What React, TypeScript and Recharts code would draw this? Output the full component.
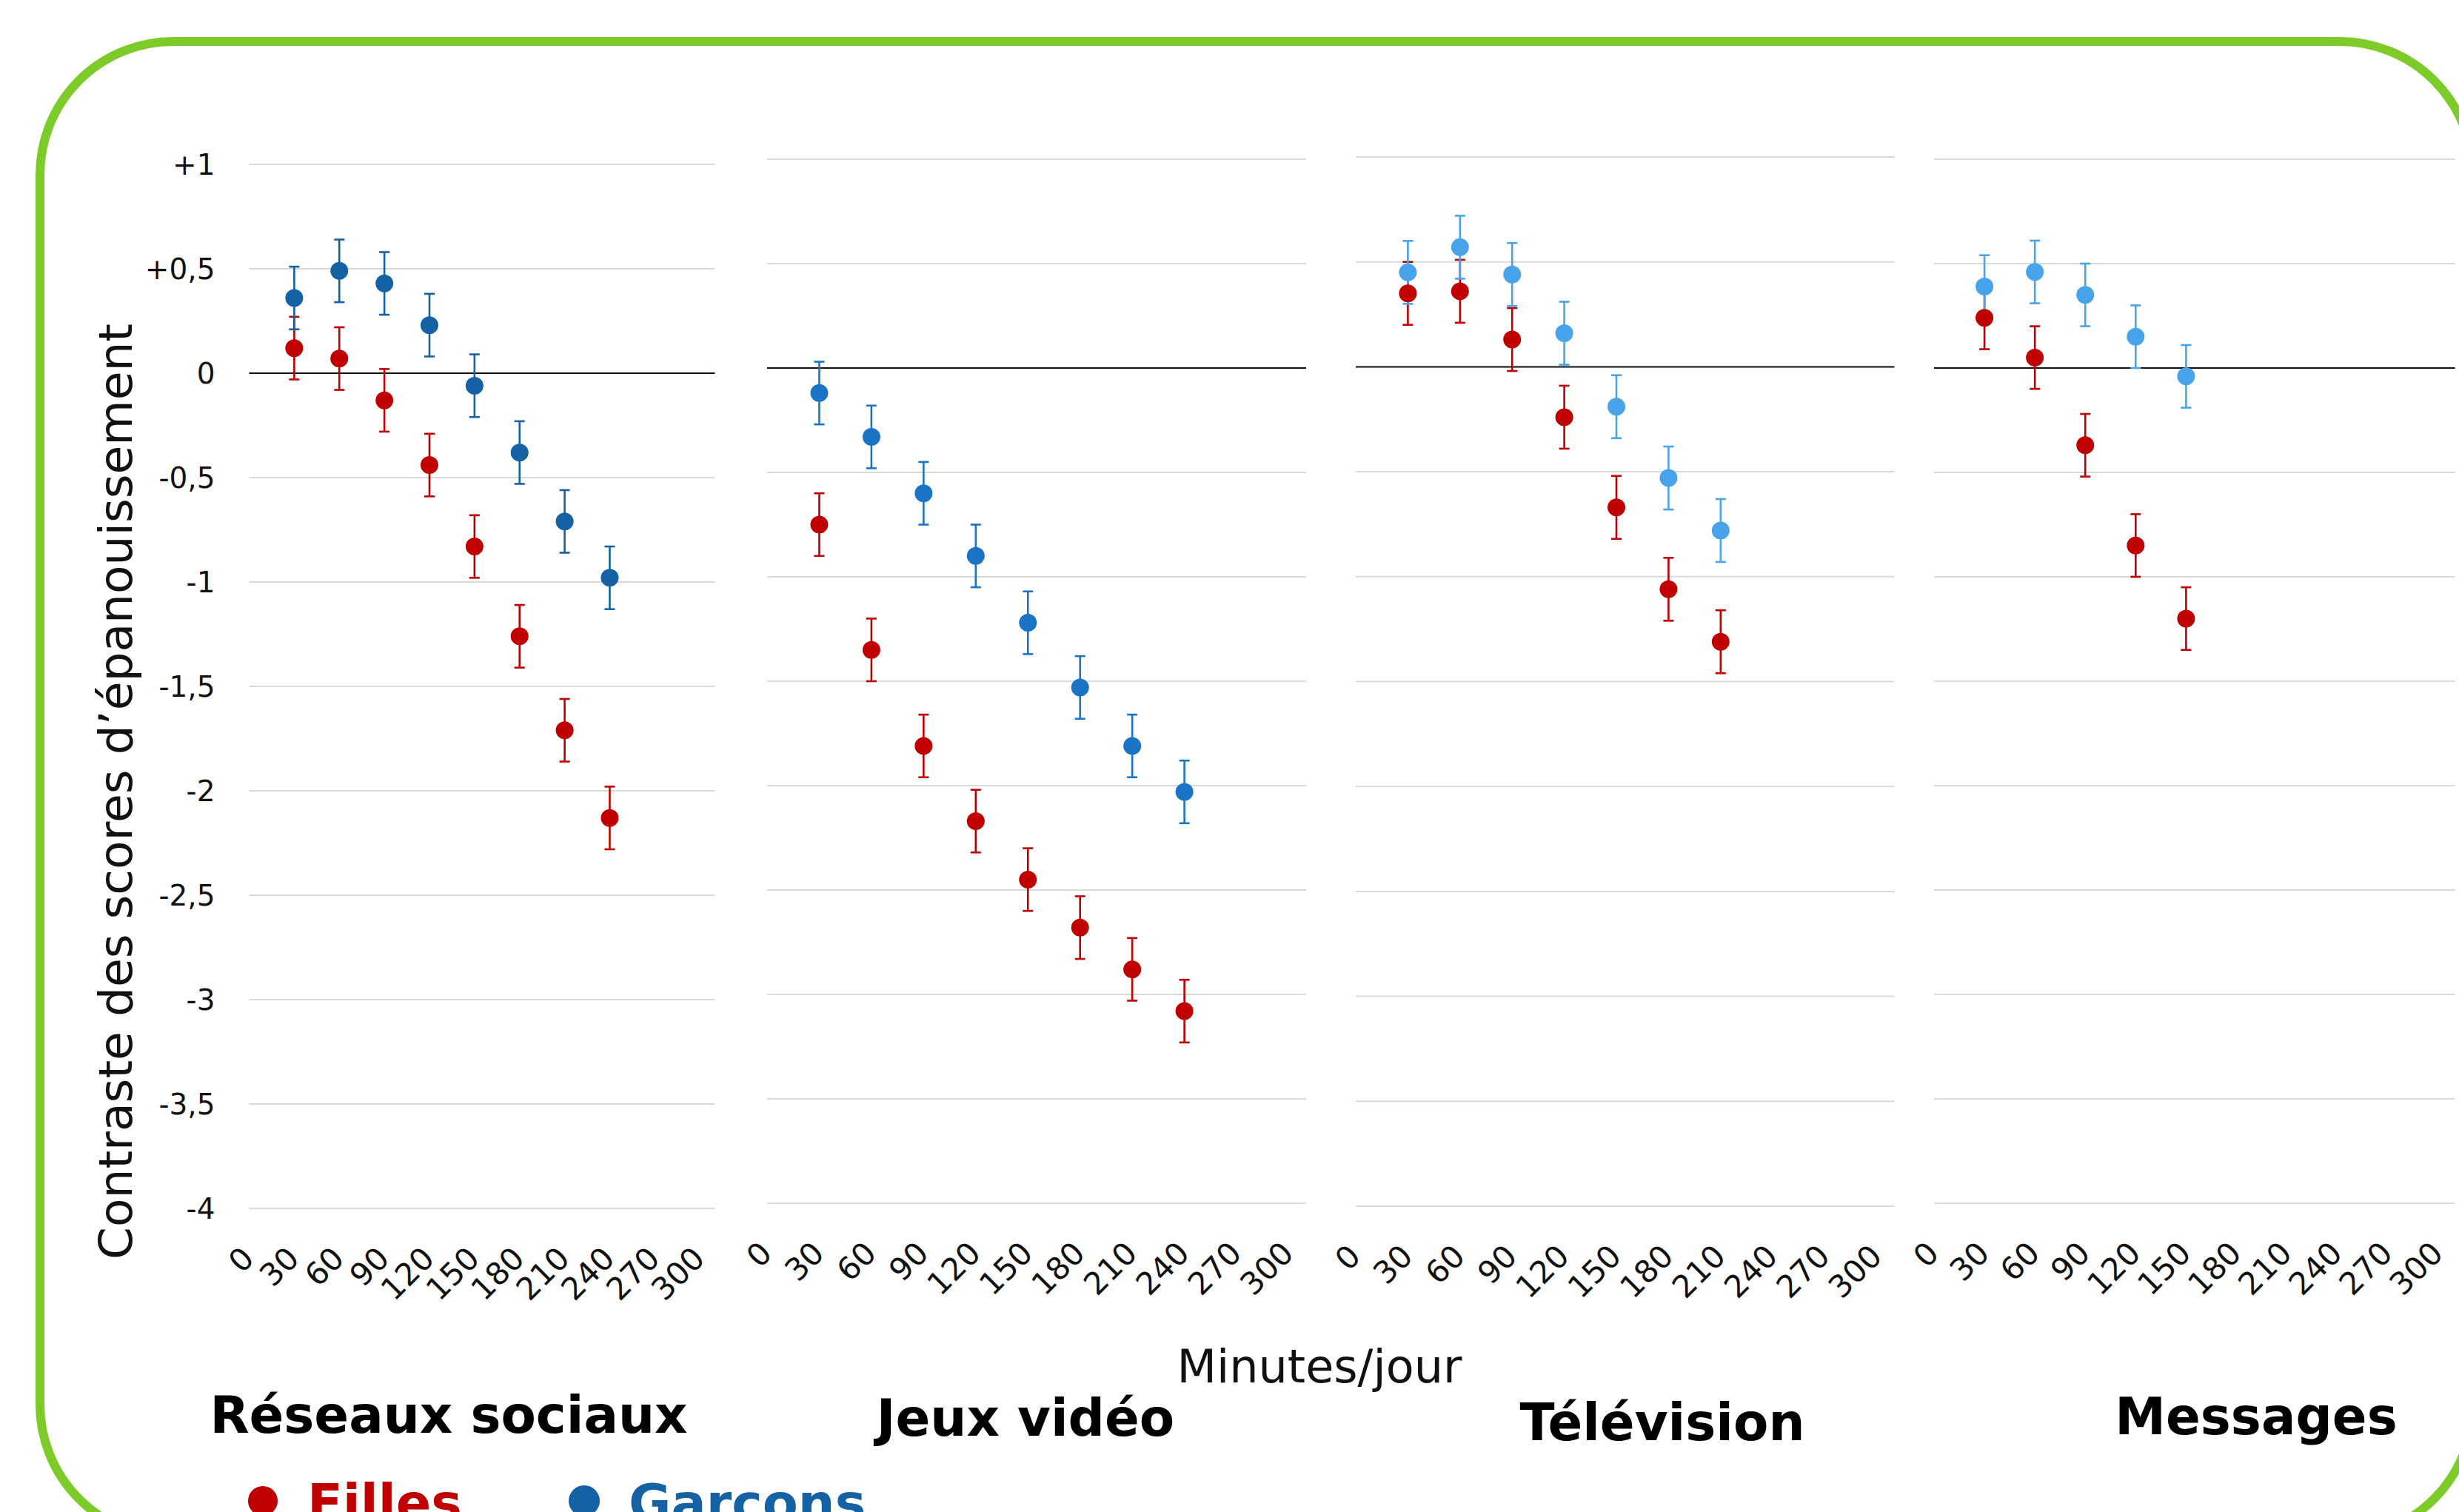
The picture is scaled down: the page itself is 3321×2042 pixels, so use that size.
import React from "react";
import {
  ScatterChart,
  Scatter,
  XAxis,
  YAxis,
  CartesianGrid,
  ErrorBar,
  ReferenceLine,
} from "recharts";

// ---------- data ----------
const minuteTicks = [0, 30, 60, 90, 120, 150, 180, 210, 240, 270, 300];
const xTickLabels = ["0", "30", "60", "90", "120", "150", "180", "210", "240", "270", "300"];
const yTicks = [1, 0.5, 0, -0.5, -1, -1.5, -2, -2.5, -3, -3.5, -4];
const yTickLabels = ["+1", "+0,5", "0", "-0,5", "-1", "-1,5", "-2", "-2,5", "-3", "-3,5", "-4"];

const panelTitles = ["Réseaux sociaux", "Jeux vidéo", "Télévision", "Messages"];
const seriesNames = ["Filles", "Garçons"];

// Réseaux sociaux
const socialMinutes = [30, 60, 90, 120, 150, 180, 210, 240];
const socialFilles = [0.12, 0.07, -0.13, -0.44, -0.83, -1.26, -1.71, -2.13];
const socialFillesErr = [0.15, 0.15, 0.15, 0.15, 0.15, 0.15, 0.15, 0.15];
const socialGarcons = [0.36, 0.49, 0.43, 0.23, -0.06, -0.38, -0.71, -0.98];
const socialGarconsErr = [0.15, 0.15, 0.15, 0.15, 0.15, 0.15, 0.15, 0.15];

// Jeux vidéo
const gamesMinutes = [30, 60, 90, 120, 150, 180, 210, 240];
const gamesFilles = [-0.75, -1.35, -1.81, -2.17, -2.45, -2.68, -2.88, -3.08];
const gamesFillesErr = [0.15, 0.15, 0.15, 0.15, 0.15, 0.15, 0.15, 0.15];
const gamesGarcons = [-0.12, -0.33, -0.6, -0.9, -1.22, -1.53, -1.81, -2.03];
const gamesGarconsErr = [0.15, 0.15, 0.15, 0.15, 0.15, 0.15, 0.15, 0.15];

// Télévision
const tvMinutes = [30, 60, 90, 120, 150, 180, 210];
const tvFilles = [0.35, 0.36, 0.13, -0.24, -0.67, -1.06, -1.31];
const tvFillesErr = [0.15, 0.15, 0.15, 0.15, 0.15, 0.15, 0.15];
const tvGarcons = [0.45, 0.57, 0.44, 0.16, -0.19, -0.53, -0.78];
const tvGarconsErr = [0.15, 0.15, 0.15, 0.15, 0.15, 0.15, 0.15];

// Messages
const msgMinutes = [30, 60, 90, 120, 150];
const msgFilles = [0.24, 0.05, -0.37, -0.85, -1.2];
const msgFillesErr = [0.15, 0.15, 0.15, 0.15, 0.15];
const msgGarcons = [0.39, 0.46, 0.35, 0.15, -0.04];
const msgGarconsErr = [0.15, 0.15, 0.15, 0.15, 0.15];

// ---------- styles / layout ----------
const FONT = "'DejaVu Sans', sans-serif";
const RED = "#c00000";
const BLUE_DARK = "#1461a4";
const GREEN = "#7dcb29";

const toPoints = (mins: number[], vals: number[], errs: number[]) =>
  mins.map((m, i) => ({ x: m, y: vals[i], err: errs[i] }));

const panelData = [
  { f: toPoints(socialMinutes, socialFilles, socialFillesErr), g: toPoints(socialMinutes, socialGarcons, socialGarconsErr) },
  { f: toPoints(gamesMinutes, gamesFilles, gamesFillesErr), g: toPoints(gamesMinutes, gamesGarcons, gamesGarconsErr) },
  { f: toPoints(tvMinutes, tvFilles, tvFillesErr), g: toPoints(tvMinutes, tvGarcons, tvGarconsErr) },
  { f: toPoints(msgMinutes, msgFilles, msgFillesErr), g: toPoints(msgMinutes, msgGarcons, msgGarconsErr) },
];

const panelLayout = [
  { left: 336.5, right: 965.5, top: 222, bottom: 1632, showY: true, blue: BLUE_DARK, titleX: 606, titleY: 1935 },
  { left: 1036, right: 1764, top: 215, bottom: 1625, showY: false, blue: "#1a74c6", titleX: 1385, titleY: 1939 },
  { left: 1830.5, right: 2558, top: 212, bottom: 1629, showY: false, blue: "#48a4ea", titleX: 2245, titleY: 1945 },
  { left: 2611.5, right: 3315, top: 215, bottom: 1625, showY: false, blue: "#48a4ea", titleX: 3047, titleY: 1937 },
];

const XTick = (props: any) => {
  const { x, y, payload } = props;
  const idx = minuteTicks.indexOf(payload.value);
  const ax = x + 9;
  const ay = y + 70;
  return (
    <text
      x={ax}
      y={ay}
      transform={`rotate(-45 ${ax} ${ay})`}
      textAnchor="end"
      fontSize={42}
      fontFamily={FONT}
      fill="#111"
    >
      {xTickLabels[idx]}
    </text>
  );
};

const makeDot = (color: string) => (p: any) => (
  <circle cx={p.cx} cy={p.cy} r={12} fill={color} />
);

function Panel({ idx }: { idx: number }) {
  const L = panelLayout[idx];
  const D = panelData[idx];
  const padT = 30;
  const padR = 20;
  const padB = 240;
  const padL = L.showY ? L.left : 70;
  const plotW = L.right - L.left;
  const plotH = L.bottom - L.top;
  const width = plotW + padL + padR;
  const height = plotH + padT + padB;
  return (
    <div style={{ position: "absolute", left: L.left - padL, top: L.top - padT, width, height }}>
      <ScatterChart
        width={width}
        height={height}
        margin={{ top: padT, right: padR, bottom: 0, left: L.showY ? 0 : padL }}
      >
        <CartesianGrid horizontal vertical={false} stroke="#d9d9d9" strokeWidth={2} />
        <XAxis
          type="number"
          dataKey="x"
          domain={[0, 310]}
          ticks={minuteTicks}
          interval={0}
          axisLine={false}
          tickLine={false}
          tickSize={0}
          tickMargin={0}
          height={padB}
          tick={<XTick />}
        />
        <YAxis
          type="number"
          dataKey="y"
          domain={[-4, 1]}
          ticks={yTicks}
          interval={0}
          hide={!L.showY}
          width={L.showY ? padL : 0}
          axisLine={false}
          tickLine={false}
          tickSize={0}
          tickMargin={46}
          tickFormatter={(v: number) => yTickLabels[yTicks.indexOf(v)]}
          tick={{ fontSize: 39, fill: "#111", fontFamily: FONT }}
        />
        <ReferenceLine y={0} stroke="#111" strokeWidth={2} />
        <Scatter
          name={seriesNames[0]}
          data={D.f}
          dataKey="y"
          fill={RED}
          shape={makeDot(RED)}
          isAnimationActive={false}
        >
          <ErrorBar dataKey="err" direction="y" width={7} stroke={RED} strokeWidth={2.6} isAnimationActive={false} />
        </Scatter>
        <Scatter
          name={seriesNames[1]}
          data={D.g}
          dataKey="y"
          fill={L.blue}
          shape={makeDot(L.blue)}
          isAnimationActive={false}
        >
          <ErrorBar dataKey="err" direction="y" width={7} stroke={L.blue} strokeWidth={2.6} isAnimationActive={false} />
        </Scatter>
      </ScatterChart>
    </div>
  );
}

export default function App() {
  return (
    <div
      style={{
        position: "absolute",
        left: 0,
        top: 0,
        width: 3321,
        height: 2042,
        overflow: "hidden",
        background: "#fff",
        fontFamily: FONT,
      }}
    >
      <div
        style={{
          position: "absolute",
          left: 48,
          top: 50,
          width: 3298,
          height: 2033,
          border: `12px solid ${GREEN}`,
          borderRadius: 186,
          boxSizing: "border-box",
        }}
      />
      {panelLayout.map((_, i) => (
        <Panel key={i} idx={i} />
      ))}
      <svg
        width={3321}
        height={2042}
        style={{ position: "absolute", left: 0, top: 0, pointerEvents: "none" }}
      >
        <text
          transform="translate(178 1069) rotate(-90)"
          textAnchor="middle"
          fontSize={63}
          fontFamily={FONT}
          fill="#111"
        >
          Contraste des scores d’épanouissement
        </text>
        <text x={1782} y={1867} textAnchor="middle" fontSize={62} fontFamily={FONT} fill="#111">
          Minutes/jour
        </text>
        {panelLayout.map((L, i) => (
          <text
            key={i}
            x={L.titleX}
            y={L.titleY}
            textAnchor="middle"
            fontSize={69}
            fontWeight="bold"
            fontFamily={FONT}
            fill="#000"
          >
            {panelTitles[i]}
          </text>
        ))}
        <circle cx={355} cy={2027} r={20} fill={RED} />
        <text x={415} y={2054} fontSize={70} fontWeight="bold" fontFamily={FONT} fill={RED}>
          {seriesNames[0]}
        </text>
        <circle cx={789} cy={2027} r={21} fill={BLUE_DARK} />
        <text x={849} y={2054} fontSize={70} fontWeight="bold" fontFamily={FONT} fill={BLUE_DARK}>
          {seriesNames[1]}
        </text>
      </svg>
    </div>
  );
}
